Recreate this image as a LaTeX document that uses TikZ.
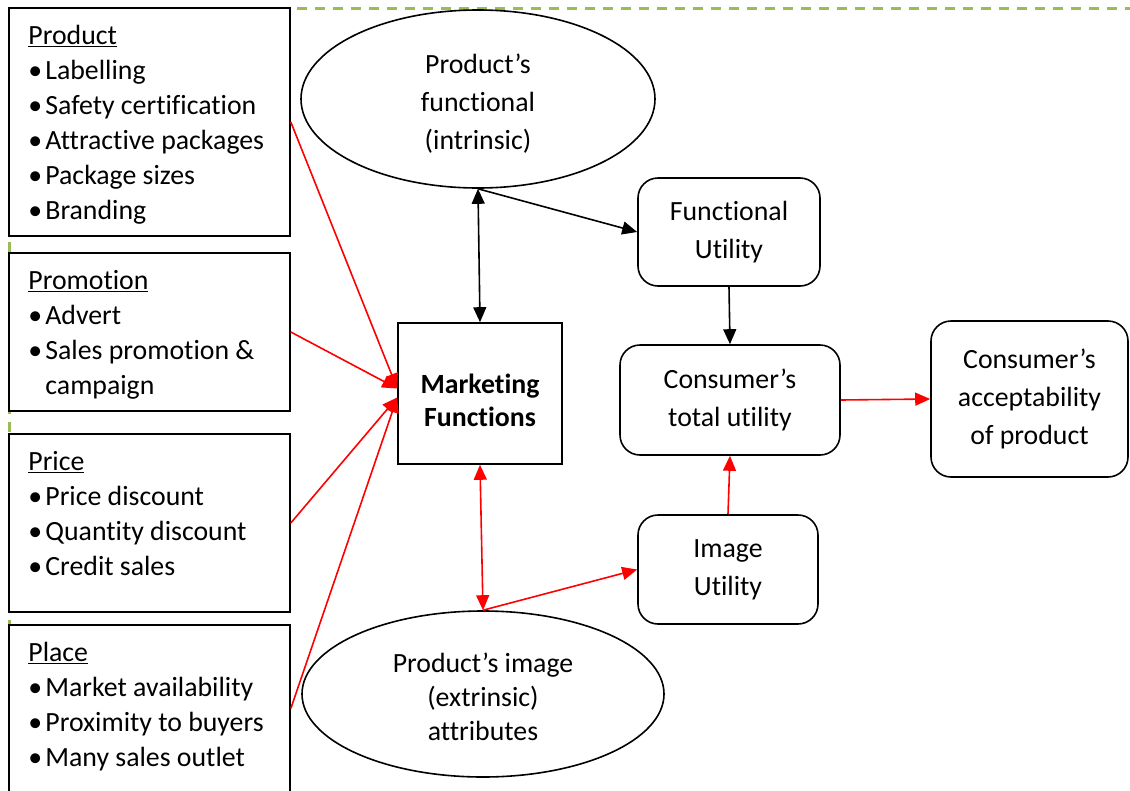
\documentclass[tikz,border=0pt]{standalone}
\usepackage{fontspec}
\setmainfont{Carlito}[Ligatures=NoCommon]
\usetikzlibrary{shapes.geometric,arrows.meta}
\definecolor{dashgreen}{HTML}{9BBB59}
\newcommand\itembul{\makebox[17pt][l]{•}}
\tikzset{
  listbox/.style={draw,line width=1.6pt,fill=white,inner sep=0pt},
  listtext/.style={anchor=north west,align=left,inner sep=0pt,font=\fontsize{27.8}{35}\selectfont},
  roundbox/.style={draw,line width=1.6pt,rounded corners=20pt,align=center,inner sep=0pt,font=\fontsize{27.8}{38}\selectfont},
  oval/.style={ellipse,draw,line width=1.6pt,align=center,inner sep=0pt},
  blackline/.style={line width=1.6pt},
  redline/.style={line width=1.6pt,red}
}
\begin{document}
\begin{tikzpicture}[x=1pt,y=-1pt,>={Triangle[length=15pt,width=13pt]}]
\useasboundingbox (0,0) rectangle (1130,790);
% dashed frame
\draw[dashgreen,line width=3pt,dash pattern=on 10pt off 8pt] (9,8) -- (1130,8);
\draw[dashgreen,line width=3pt,dash pattern=on 10pt off 8pt] (9,8) -- (9,790);

\node[listbox,minimum width=281pt,minimum height=228pt] (product) at (149.5,122) {};
\node[listtext] (producttxt) at ([xshift=20pt,yshift=-17pt]product.north west)
  {\rule{0pt}{20pt}\underline{Product}\\\itembul Labelling\\\itembul Safety certification\\\itembul Attractive packages\\\itembul Package sizes\\\itembul Branding};
\node[listbox,minimum width=281pt,minimum height=158pt] (promotion) at (149.5,332) {};
\node[listtext] (promotiontxt) at ([xshift=20pt,yshift=-17pt]promotion.north west)
  {\rule{0pt}{20pt}\underline{Promotion}\\\itembul Advert\\\itembul Sales promotion \&\\\hspace*{17pt}campaign};
\node[listbox,minimum width=281pt,minimum height=178pt] (price) at (149.5,523) {};
\node[listtext] (pricetxt) at ([xshift=20pt,yshift=-17pt]price.north west)
  {\rule{0pt}{20pt}\underline{Price}\\\itembul Price discount\\\itembul Quantity discount\\\itembul Credit sales};
\node[listbox,minimum width=281pt,minimum height=167pt] (place) at (149.5,708.5) {};
\node[listtext] (placetxt) at ([xshift=20pt,yshift=-17pt]place.north west)
  {\rule{0pt}{20pt}\underline{Place}\\\itembul Market availability\\\itembul Proximity to buyers\\\itembul Many sales outlet};

\node[oval,minimum width=354pt,minimum height=178pt,font=\fontsize{27.8}{38}\selectfont] (functional) at (478,99) {\rule{0pt}{29pt}Product’s\\functional\\(intrinsic)};
\node[oval,minimum width=362pt,minimum height=166pt,font=\fontsize{27.8}{34}\selectfont] (image) at (483,694) {\rule{0pt}{25pt}Product’s image\\(extrinsic)\\attributes};
\node[draw,line width=1.6pt,minimum width=164pt,minimum height=141pt,align=center,font=\fontsize{27.8}{33}\selectfont\bfseries] (marketing) at (480,393.5) {\rule{0pt}{33pt}Marketing\\Functions};
\node[roundbox,minimum width=182pt,minimum height=108pt] (funcutil) at (729,232) {Functional\\Utility};
\node[roundbox,minimum width=220pt,minimum height=110pt] (totalutil) at (730,400) {Consumer’s\\total utility};
\node[roundbox,minimum width=180pt,minimum height=109pt] (imageutil) at (728,569.5) {Image\\Utility};
\node[roundbox,minimum width=197pt,minimum height=156pt] (accept) at (1029.5,399) {Consumer’s\\acceptability\\of product};

\draw[blackline,<->] (functional.south) -- (marketing.north);
\draw[blackline,->] (functional.south) -- (funcutil.west);
\draw[blackline,->] (funcutil.south) -- (totalutil.north);
\draw[redline,->] (totalutil.east) -- (accept.west);
\draw[redline,->] (imageutil.north) -- (totalutil.south);
\draw[redline,<->] (marketing.south) -- (image.north);
\draw[redline,->] (image.north) -- (imageutil.west);
\draw[redline,->] (product.east) -- ([yshift=5pt]marketing.west);
\draw[redline,->] (promotion.east) -- ([yshift=5pt]marketing.west);
\draw[redline,->] (price.east) -- ([yshift=-4pt]marketing.west);
\draw[redline,->] (place.east) -- ([yshift=-4pt]marketing.west);
\end{tikzpicture}
\end{document}
